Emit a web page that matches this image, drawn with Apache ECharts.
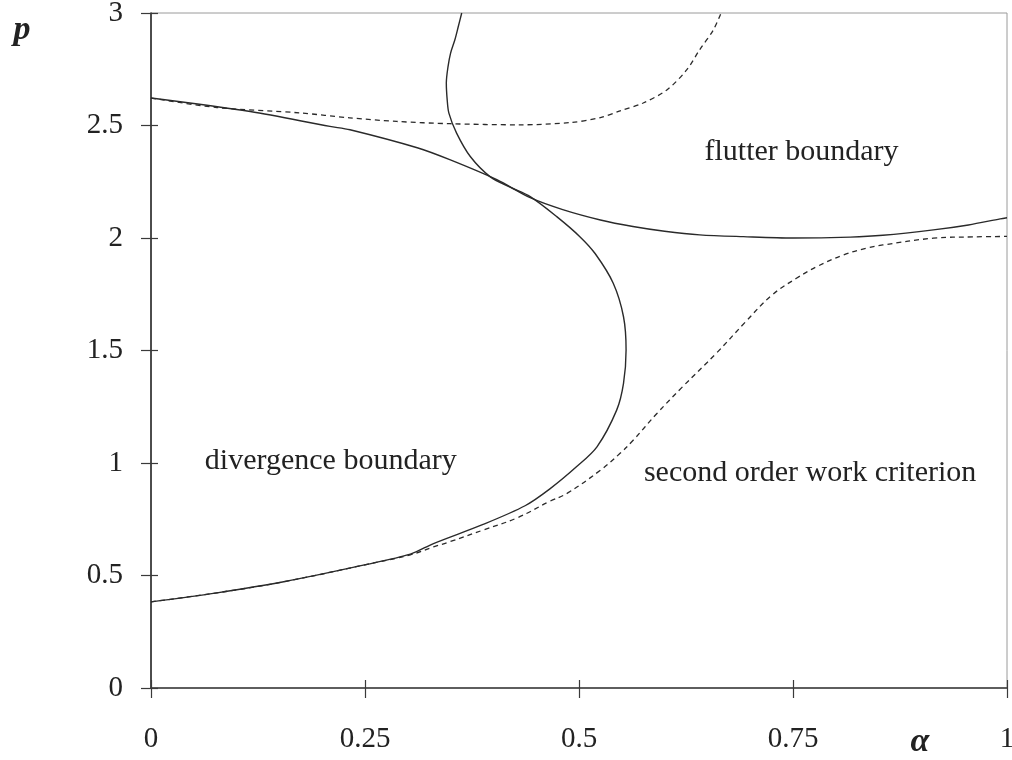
<!DOCTYPE html>
<html>
<head>
<meta charset="utf-8">
<script src="https://cdn.jsdelivr.net/npm/echarts@6/dist/echarts.min.js"></script>
<style>
  html, body { margin: 0; padding: 0; background: #fff; }
  #chart { width: 1012px; height: 760px; }
</style>
</head>
<body>
<div id="chart"></div>
<script>
// ---- data (alpha, p) ----
const flutterAlpha = [0, 0.116, 0.209, 0.2325, 0.311, 0.349, 0.404, 0.443, 0.481, 0.525, 0.563, 0.600, 0.641, 0.692, 0.75, 0.817, 0.855, 0.914, 0.955, 0.992, 1.0];
const flutterP     = [2.622, 2.562, 2.496, 2.481, 2.401, 2.348, 2.259, 2.179, 2.126, 2.080, 2.051, 2.030, 2.014, 2.006, 2.0, 2.004, 2.012, 2.036, 2.058, 2.085, 2.09];

const flutterDashAlpha = [0, 0.077, 0.174, 0.232, 0.287, 0.349, 0.431, 0.49, 0.525, 0.548, 0.575, 0.603, 0.626, 0.641, 0.657, 0.666];
const flutterDashP     = [2.622, 2.58, 2.556, 2.534, 2.518, 2.508, 2.503, 2.513, 2.535, 2.565, 2.60, 2.659, 2.748, 2.837, 2.925, 3.0];

const divergenceAlpha = [0.363, 0.359, 0.355, 0.350, 0.347, 0.345, 0.346, 0.348, 0.357, 0.373, 0.396, 0.420, 0.443, 0.474, 0.501, 0.519, 0.540, 0.552, 0.555, 0.552, 0.544, 0.521, 0.497, 0.466, 0.437, 0.388, 0.330, 0.303, 0.248, 0.155, 0.077, 0];
const divergenceP     = [3.0, 2.940, 2.881, 2.822, 2.762, 2.689, 2.615, 2.555, 2.466, 2.362, 2.273, 2.225, 2.184, 2.095, 2.006, 1.93, 1.799, 1.650, 1.502, 1.354, 1.235, 1.072, 0.983, 0.885, 0.810, 0.727, 0.642, 0.595, 0.546, 0.472, 0.423, 0.383];

const workAlpha = [0, 0.077, 0.155, 0.248, 0.303, 0.330, 0.349, 0.388, 0.427, 0.466, 0.486, 0.525, 0.548, 0.563, 0.591, 0.620, 0.661, 0.694, 0.725, 0.754, 0.778, 0.809, 0.836, 0.855, 0.914, 0.96, 1.0];
const workP     = [0.383, 0.423, 0.472, 0.546, 0.592, 0.627, 0.650, 0.702, 0.755, 0.830, 0.865, 0.968, 1.043, 1.100, 1.220, 1.335, 1.49, 1.625, 1.745, 1.821, 1.873, 1.925, 1.955, 1.969, 1.999, 2.005, 2.007];

const alphaRange = [0, 1, 0.25];
const pRange = [0, 3, 0.5];

const annotations = [
  { text: 'flutter boundary', alpha: 0.760, p: 2.38 },
  { text: 'divergence boundary', alpha: 0.210, p: 1.01 },
  { text: 'second order work criterion', alpha: 0.770, p: 0.955 }
];

function zip(a, b) { return a.map((v, i) => [v, b[i]]); }

const chart = echarts.init(document.getElementById('chart'), null, { renderer: 'canvas' });
const serif = '"Liberation Serif", "DejaVu Serif", serif';
const axisColor = '#3a3a3a';
const lineColor = '#2a2a2a';

function xAxisBase(extra) {
  return Object.assign({
    type: 'value', min: alphaRange[0], max: alphaRange[1], interval: alphaRange[2],
    position: 'bottom', splitLine: { show: false }
  }, extra);
}
function yAxisBase(extra) {
  return Object.assign({
    type: 'value', min: pRange[0], max: pRange[1], interval: pRange[2],
    position: 'left', splitLine: { show: false }
  }, extra);
}

const option = {
  backgroundColor: '#ffffff',
  animation: false,
  grid: { left: 151, right: 5, top: 13, bottom: 72, containLabel: false, outerBoundsMode: 'none',
          show: true, borderColor: '#9a9a9a', borderWidth: 1, backgroundColor: 'transparent' },
  xAxis: [
    xAxisBase({
      axisLine: { show: true, lineStyle: { color: axisColor, width: 1.5 } },
      axisTick: { show: true, inside: false, length: 10, lineStyle: { color: axisColor, width: 1.2 } },
      axisLabel: { show: true, margin: 37, fontFamily: serif, fontSize: 29, color: '#222' }
    }),
    xAxisBase({
      axisLine: { show: false },
      axisTick: { show: true, inside: true, length: 8, lineStyle: { color: axisColor, width: 1.2 } },
      axisLabel: { show: false }
    })
  ],
  yAxis: [
    yAxisBase({
      axisLine: { show: true, lineStyle: { color: '#222', width: 1.5 } },
      axisTick: { show: true, inside: false, length: 10, lineStyle: { color: axisColor, width: 1.2 } },
      axisLabel: { show: true, margin: 28, fontFamily: serif, fontSize: 29, color: '#222' }
    }),
    yAxisBase({
      axisLine: { show: false },
      axisTick: { show: true, inside: true, length: 7, lineStyle: { color: axisColor, width: 1.2 } },
      axisLabel: { show: false }
    })
  ],
  series: [
    { name: 'flutter', type: 'line', xAxisIndex: 0, yAxisIndex: 0, showSymbol: false, smooth: 0.3,
      data: zip(flutterAlpha, flutterP), lineStyle: { color: lineColor, width: 1.4 } },
    { name: 'flutter-dash', type: 'line', xAxisIndex: 0, yAxisIndex: 0, showSymbol: false, smooth: 0.3,
      data: zip(flutterDashAlpha, flutterDashP), lineStyle: { color: lineColor, width: 1.3, type: [5, 4] } },
    { name: 'divergence', type: 'line', xAxisIndex: 0, yAxisIndex: 0, showSymbol: false, smooth: 0.3,
      data: zip(divergenceAlpha, divergenceP), lineStyle: { color: lineColor, width: 1.4 } },
    { name: 'work', type: 'line', xAxisIndex: 0, yAxisIndex: 0, showSymbol: false, smooth: 0.4,
      data: zip(workAlpha, workP), lineStyle: { color: lineColor, width: 1.3, type: [5, 4] } }
  ]
};

chart.setOption(option);

// annotations and axis names as real text, placed through the chart's own scale
function placeText() {
  const els = [];
  annotations.forEach(a => {
    const pt = chart.convertToPixel({ xAxisIndex: 0, yAxisIndex: 0 }, [a.alpha, a.p]);
    els.push({ type: 'text', x: pt[0], y: pt[1], silent: true,
      style: { text: a.text, font: '30px ' + serif, fill: '#222', align: 'center', verticalAlign: 'middle' } });
  });
  els.push({ type: 'text', x: 22, y: 30, style: { text: 'p', font: 'italic bold 34px ' + serif, fill: '#222', align: 'center', verticalAlign: 'middle' } });
  els.push({ type: 'text', x: 920, y: 742, style: { text: 'α', font: 'italic bold 34px ' + serif, fill: '#222', align: 'center', verticalAlign: 'middle' } });
  chart.setOption({ graphic: { elements: els } });
}
placeText();
</script>
</body>
</html>
